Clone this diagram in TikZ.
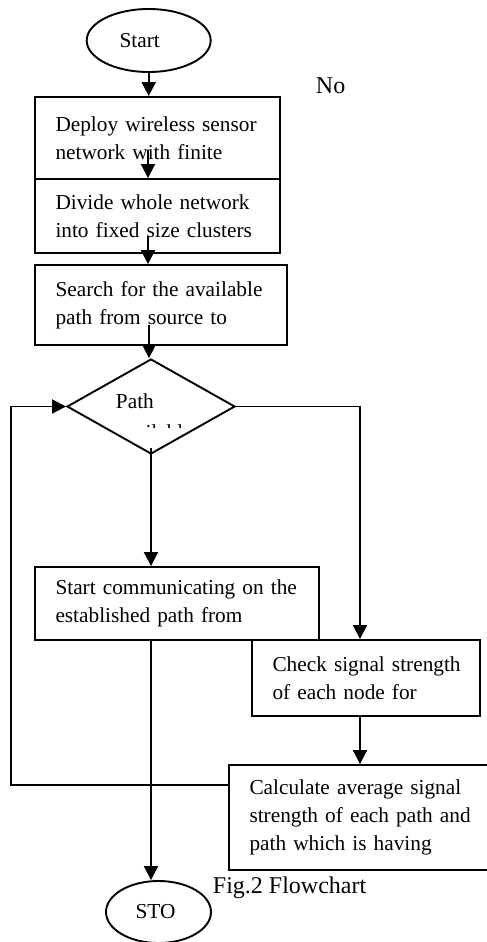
\documentclass[tikz,border=0pt]{standalone}
\usepackage{fontspec}
\setmainfont{Liberation Serif}
\usetikzlibrary{shapes.geometric,arrows.meta,calc}
\begin{document}
\begin{tikzpicture}[x=1pt,y=-1pt,
  line width=1.9pt,
  body/.style={font=\fontsize{21.3}{28}\selectfont},
  big/.style={font=\fontsize{24}{28}\selectfont},
  stepbox/.style={draw, body, align=left, inner xsep=20.5pt, inner ysep=0pt, anchor=center},
  term/.style={draw, ellipse, inner sep=0pt, body},
  arr/.style={-{Triangle[width=14pt,length=14pt]}}]
\useasboundingbox (0,0) rectangle (487,942);

% terminals
\node[term, minimum width=124pt, minimum height=63pt, label={[body, xshift=-9pt]center:Start}] (start) at (148.7,40.5) {};
\node[term, minimum width=105pt, minimum height=62pt, label={[body, xshift=-3pt]center:STO}] (sto) at (158.5,912) {};

% process boxes
\node[stepbox, minimum width=245pt, minimum height=82pt, text width=204pt] (box1) at (157.5,138) {\mbox{Deploy wireless sensor}\\\mbox{network with finite}};
\node[stepbox, minimum width=245pt, minimum height=74pt, text width=204pt] (box2) at (157.5,216) {\mbox{Divide whole network}\\\mbox{into fixed size clusters}};
\node[stepbox, minimum width=252pt, minimum height=80pt, text width=211pt] (box3) at (161,305) {\mbox{Search for the available}\\\mbox{path from source to}};
\node[stepbox, minimum width=284pt, minimum height=73pt, text width=243pt] (box4) at (177,603.5) {\mbox{Start communicating on the}\\\mbox{established path from}};
\node[stepbox, minimum width=228pt, minimum height=76pt, text width=187pt] (box5) at (366,678) {\mbox{Check signal strength}\\\mbox{of each node for}};
\node[stepbox, minimum width=271pt, minimum height=105pt, text width=230pt] (box6) at (364.5,817.5) {\mbox{Calculate average signal}\\\mbox{strength of each path and}\\\mbox{path which is having}};

% decision
\node[draw, diamond, aspect=1.77, minimum width=168pt, minimum height=95pt, inner sep=0pt] (dia) at (151,406.5) {};
\node[body, anchor=base west, inner sep=0pt] (pathtxt) at (115,408) {Path};
\begin{scope}
  \clip (110,422) rectangle (180,427);
  \node[body, anchor=base west, inner sep=0pt] (availtxt) at (115,439) {available};
\end{scope}

% free texts
\node[big, anchor=base west, inner sep=0pt] (no) at (315,93) {No};
\node[big, anchor=base west, inner sep=0pt] (cap) at (212,893) {Fig.2 Flowchart};

% helper coordinates
\coordinate (a1) at (148,150);
\coordinate (a2) at (148,236);
\coordinate (a3) at (149,325);
\coordinate (lc) at (11,406.5);
\coordinate (rc) at (360,406.5);

% connectors
\draw[arr] (start.south) -- (start.south |- box1.north);
\draw[arr] (a1) -- (a1 |- box2.north);
\draw[arr] (a2) -- (a2 |- box3.north);
\draw[arr] (a3) -- (a3 |- dia.north);
\draw[arr] ([yshift=7pt]dia.south) -- (dia.south |- box4.north);
\draw[arr] (dia.east) -- (rc) -- (rc |- box5.north);
\draw[arr] (dia.south |- box4.south) -- (dia.south |- sto.north);
\draw[arr] (rc |- box5.south) -- (rc |- box6.north);
\draw[arr] ([yshift=32.5pt]box6.west) -| (lc) -- (dia.west);
\end{tikzpicture}
\end{document}
